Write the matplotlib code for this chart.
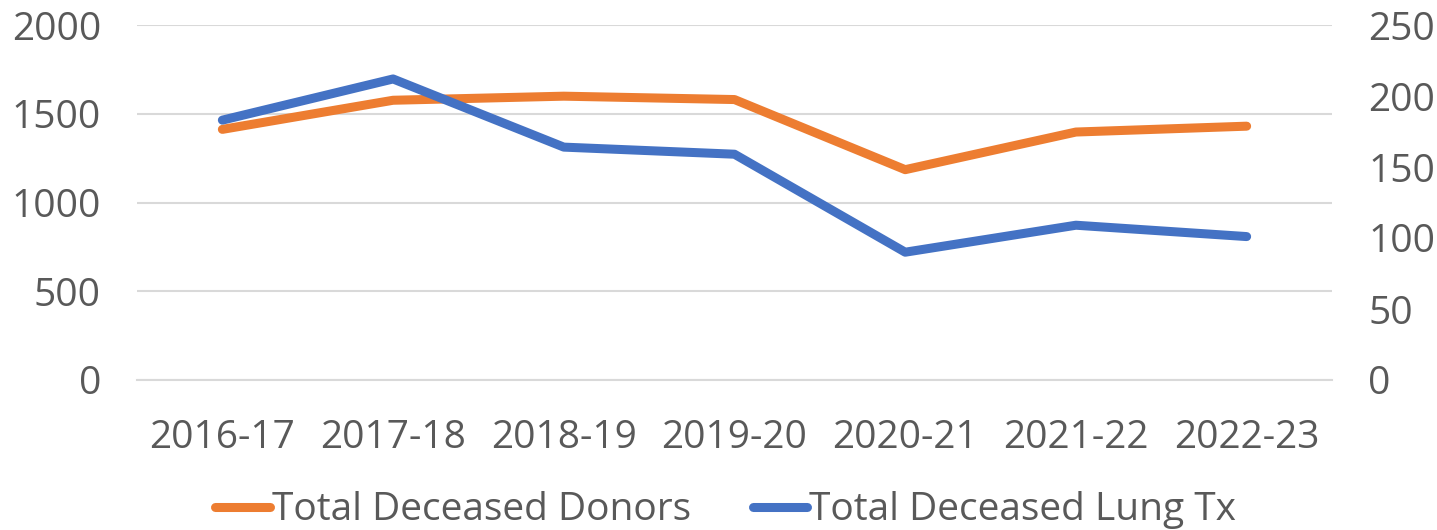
import numpy as np
import matplotlib
matplotlib.use('Agg')
from matplotlib import pyplot as plt

plt.rcParams['font.family'] = ['Open Sans', 'DejaVu Sans']
plt.rcParams['font.size'] = 28

years = ['2016-17', '2017-18', '2018-19', '2019-20', '2020-21', '2021-22', '2022-23']
donors = [1412, 1576, 1599, 1580, 1185, 1397, 1430]
lung_tx = [183, 212, 164, 159, 90, 109, 101]

orange = '#ED7D31'
blue = '#4472C4'
text_col = '#595959'
grid_col = '#D9D9D9'

fig = plt.figure(figsize=(14.37, 5.30), dpi=100)
ax = fig.add_axes([137/1437, 150/530, (1332-137)/1437, 355/530])
ax2 = ax.twinx()

x = np.arange(len(years))
l1, = ax.plot(x, donors, color=orange, lw=6.5, solid_capstyle='round',
              solid_joinstyle='round')
l2, = ax2.plot(x, lung_tx, color=blue, lw=6.5, solid_capstyle='round',
               solid_joinstyle='round')

ax.set_xlim(-0.5, len(years) - 0.5)
ax.set_ylim(0, 2000)
ax2.set_ylim(0, 250)
ax.set_yticks([0, 500, 1000, 1500, 2000])
ax2.set_yticks([0, 50, 100, 150, 200, 250])
ax.set_xticks(x, years)

ax.yaxis.grid(True, color=grid_col, lw=1.5)
ax.set_axisbelow(True)
for a in (ax, ax2):
    for s in a.spines.values():
        s.set_visible(False)
    a.tick_params(length=0, colors=text_col, labelsize=28)
ax.spines['bottom'].set_visible(True)
ax.spines['bottom'].set_color(grid_col)
ax.spines['bottom'].set_linewidth(1.5)
ax.tick_params(axis='x', pad=28)
ax.tick_params(axis='y', pad=26)
ax2.tick_params(axis='y', pad=26)

fig.legend([l1, l2], ['Total Deceased Donors', 'Total Deceased Lung Tx'],
           loc='center', bbox_to_anchor=(0.505, 0.037), ncol=2, frameon=False,
           fontsize=28, labelcolor=text_col, handlelength=1.4,
           handletextpad=0.05, columnspacing=1.6)

fig.savefig('out.png', dpi=100)
